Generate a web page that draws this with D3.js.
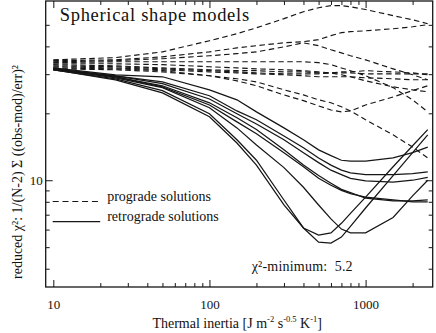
<!DOCTYPE html>
<html>
<head>
<meta charset="utf-8" />
<title>Thermal inertia fit</title>
<script src="https://cdn.jsdelivr.net/npm/d3@7/dist/d3.min.js"></script>
<style>
  body { margin: 0; background: #fff; }
  svg { display: block; font-family: "Liberation Serif", "Times New Roman", serif; }
</style>
</head>
<body>
<svg width="436" height="333"></svg>
<script>
// thermal inertia grid
const gamma = [10, 25, 50, 100, 150, 200, 300, 400, 500, 600, 700, 800, 1000, 1500, 2000, 2500];

// reduced chi2, prograde solutions (dashed)
const prograde = [
  [34.8, 35.6, 37.8, 42.4, 45.6, 48.5, 53.3, 57.3, 59.7, 61.0, 61.0, 60.3, 58.6, 55.0, 52.7, 50.6],
  [34.5, 34.8, 35.9, 37.8, 39.4, 40.3, 41.5, 42.0, 42.9, 44.7, 46.1, 46.6, 47.0, 48.0, 49.0, 50.1],
  [34.1, 34.5, 35.2, 36.3, 37.1, 37.8, 39.8, 41.5, 40.3, 38.6, 37.4, 36.3, 34.8, 31.7, 29.8, 28.3],
  [33.8, 34.1, 34.1, 34.1, 34.1, 34.1, 34.1, 34.1, 33.8, 33.1, 32.0, 31.1, 29.5, 26.1, 23.0, 20.3],
  [33.4, 33.4, 33.1, 32.4, 32.0, 31.7, 31.4, 31.1, 30.7, 30.4, 29.8, 29.2, 28.0, 26.3, 25.5, 25.0],
  [33.1, 32.7, 32.0, 31.4, 31.1, 31.1, 30.7, 30.7, 30.4, 30.4, 30.4, 30.4, 30.1, 30.1, 30.1, 30.1],
  [32.7, 32.4, 31.7, 31.1, 30.7, 30.4, 30.1, 30.1, 30.1, 30.4, 30.7, 30.7, 31.1, 30.7, 30.4, 29.8],
  [32.4, 32.0, 31.4, 30.7, 30.4, 30.1, 29.8, 29.5, 29.2, 29.2, 29.2, 29.2, 28.9, 28.6, 28.3, 28.3],
  [32.0, 31.7, 31.1, 29.5, 28.0, 26.6, 24.2, 22.8, 21.6, 20.7, 20.3, 20.5, 21.8, 23.7, 25.3, 26.6],
  [31.7, 31.4, 30.7, 29.5, 28.6, 27.7, 25.5, 24.2, 23.0, 22.3, 21.4, 20.5, 18.7, 16.0, 14.1, 12.6]
];

// reduced chi2, retrograde solutions (solid)
const retrograde = [
  [32.0, 29.8, 29.2, 25.5, 23.0, 20.3, 17.2, 15.2, 13.7, 12.9, 12.3, 12.2, 12.2, 12.6, 13.3, 14.1],
  [31.7, 29.5, 27.7, 24.0, 20.5, 18.7, 15.8, 14.0, 12.6, 11.7, 11.1, 10.8, 10.6, 10.6, 10.7, 10.9],
  [31.7, 29.5, 27.2, 23.2, 19.9, 17.9, 15.2, 13.3, 12.0, 11.1, 10.6, 10.2, 9.93, 9.8, 10.0, 10.3],
  [31.7, 29.2, 26.6, 22.3, 19.1, 16.9, 13.7, 11.7, 10.5, 9.7, 9.1, 8.8, 8.3, 8.07, 8.07, 8.15],
  [31.4, 29.2, 26.3, 21.8, 18.3, 16.2, 13.3, 11.5, 10.2, 9.5, 9.0, 8.7, 8.4, 8.15, 8.0, 8.0],
  [31.4, 28.3, 24.7, 19.3, 14.7, 11.7, 7.74, 6.1, 5.67, 5.8, 6.4, 7.1, 8.4, 11.5, 14.3, 16.9],
  [31.4, 28.6, 25.3, 19.9, 15.2, 12.3, 8.15, 6.1, 5.27, 5.22, 5.55, 6.2, 7.5, 10.5, 13.3, 16.0],
  [31.7, 28.9, 26.1, 21.2, 17.2, 14.4, 11.4, 9.3, 7.74, 6.7, 6.03, 5.8, 5.8, 6.8, 8.5, 10.0]
];

const xMajor = [10, 100, 1000];
const xMinor = [20, 30, 40, 50, 60, 70, 80, 90, 200, 300, 400, 500, 600, 700, 800, 900, 2000];
const yMajor = [10];
const yMinor = [4, 5, 6, 7, 8, 9, 20, 30, 40, 50];
const chiMin = 5.2;

const svg = d3.select("svg");
const width = +svg.attr("width");
const height = +svg.attr("height");
const margin = {top: 1, right: 3.3, bottom: 46, left: 45.7};
const innerWidth = width - margin.left - margin.right;
const innerHeight = height - margin.top - margin.bottom;

const x = d3.scaleLog().domain([8.94, 2690]).range([0, innerWidth]);
const y = d3.scaleLog().domain([3.31, 64.0]).range([innerHeight, 0]);

const g = svg.append("g").attr("transform", `translate(${margin.left},${margin.top})`);

g.append("clipPath").attr("id", "plot")
  .append("rect").attr("width", innerWidth).attr("height", innerHeight);

const ink = "#161616";

// curves
const line = d3.line().x((d, i) => x(gamma[i])).y(d => y(d));
const curves = g.append("g").attr("clip-path", "url(#plot)");
curves.selectAll(".pro").data(prograde).enter().append("path")
  .attr("class", "pro")
  .attr("d", line)
  .attr("fill", "none").attr("stroke", ink).attr("stroke-width", 1.15)
  .attr("stroke-dasharray", "5.5,3.5");
curves.selectAll(".retro").data(retrograde).enter().append("path")
  .attr("class", "retro")
  .attr("d", line)
  .attr("fill", "none").attr("stroke", ink).attr("stroke-width", 1.25);

// axes with inward ticks on all four sides
function styleAxis(sel) {
  sel.select(".domain").remove();
  sel.selectAll(".tick line").attr("stroke", ink);
  sel.selectAll("text").attr("fill", "#111").style("font-size", "13px")
    .style("font-family", "'Liberation Serif', 'Times New Roman', serif");
}
// minor / mirrored ticks carry no labels
function bareAxis(sel) {
  styleAxis(sel);
  sel.selectAll(".tick text").remove();
}
const fmt = d3.format("d");

g.append("g").attr("transform", `translate(0,${innerHeight})`)
  .call(d3.axisBottom(x).tickValues(xMajor).tickFormat(fmt).tickSize(-7).tickPadding(13))
  .call(styleAxis);
g.append("g").attr("transform", `translate(0,${innerHeight})`)
  .call(d3.axisBottom(x).tickValues(xMinor).tickSize(-4))
  .call(bareAxis);
g.append("g")
  .call(d3.axisTop(x).tickValues(xMajor).tickSize(-7))
  .call(bareAxis);
g.append("g")
  .call(d3.axisTop(x).tickValues(xMinor).tickSize(-4))
  .call(bareAxis);

g.append("g")
  .call(d3.axisLeft(y).tickValues(yMajor).tickFormat(fmt).tickSize(-7).tickPadding(3))
  .call(styleAxis);
g.append("g")
  .call(d3.axisLeft(y).tickValues(yMinor).tickSize(-4))
  .call(bareAxis);
g.append("g").attr("transform", `translate(${innerWidth},0)`)
  .call(d3.axisRight(y).tickValues(yMajor).tickSize(-7))
  .call(bareAxis);
g.append("g").attr("transform", `translate(${innerWidth},0)`)
  .call(d3.axisRight(y).tickValues(yMinor).tickSize(-4))
  .call(bareAxis);

// frame
g.append("rect").attr("width", innerWidth).attr("height", innerHeight)
  .attr("fill", "none").attr("stroke", ink).attr("stroke-width", 1.3);

// title inside plot
g.append("text").attr("x", 14).attr("y", 19.5)
  .style("font-size", "18.5px").style("letter-spacing", "0.7px").attr("fill", "#111")
  .text("Spherical shape models");

// legend
const legend = g.append("g");
legend.append("line").attr("x1", 7).attr("x2", 54.5).attr("y1", 200.5).attr("y2", 200.5)
  .attr("stroke", ink).attr("stroke-width", 1.15).attr("stroke-dasharray", "6,3.8");
legend.append("text").attr("x", 61.5).attr("y", 199.5).style("font-size", "14px").attr("fill", "#111")
  .text("prograde solutions");
legend.append("line").attr("x1", 7).attr("x2", 54.5).attr("y1", 220.7).attr("y2", 220.7)
  .attr("stroke", ink).attr("stroke-width", 1.25);
legend.append("text").attr("x", 61.5).attr("y", 219.5).style("font-size", "14px").attr("fill", "#111")
  .text("retrograde solutions");

// chi2 minimum note
g.append("text").attr("x", 206).attr("y", 270).style("font-size", "14px").attr("fill", "#111")
  .style("white-space", "pre").style("letter-spacing", "0.2px")
  .text("\u03c7\u00b2-minimum:  " + chiMin);

// x axis title
const xt = svg.append("text").attr("x", margin.left + innerWidth / 2 - 2).attr("y", 327.5)
  .attr("text-anchor", "middle").style("font-size", "14px").attr("fill", "#111");
xt.append("tspan").text("Thermal inertia [J m");
xt.append("tspan").attr("dy", -6).style("font-size", "8.5px").text("-2");
xt.append("tspan").attr("dy", 6).text(" s");
xt.append("tspan").attr("dy", -6).style("font-size", "8.5px").text("-0.5");
xt.append("tspan").attr("dy", 6).text(" K");
xt.append("tspan").attr("dy", -6).style("font-size", "8.5px").text("-1");
xt.append("tspan").attr("dy", 6).text("]");

// y axis title
svg.append("text").attr("transform", "translate(21.5,172) rotate(-90)")
  .attr("text-anchor", "middle").style("font-size", "14px").attr("fill", "#111")
  .text("reduced \u03c7\u00b2: 1/(N-2) \u03a3 ((obs-mod)/err)\u00b2");
</script>
</body>
</html>
